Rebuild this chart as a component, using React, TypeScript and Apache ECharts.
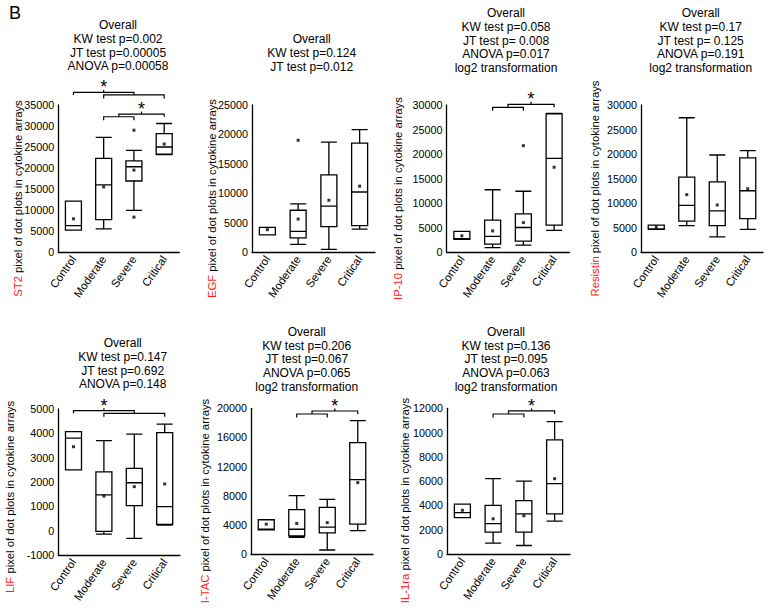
import React, { useEffect, useRef } from "react";
import * as echarts from "echarts";

const FONT = "'Liberation Sans', Arial, Helvetica, sans-serif";
const RED = "#ff1a1a";

const categories = ["Control", "Moderate", "Severe", "Critical"];

// boxes: [min, Q1, median, Q3, max]
const st2Boxes = [
  [5200, 5200, 6300, 12100, 12100],
  [5500, 7700, 16000, 22300, 27300],
  [9900, 16900, 20300, 21700, 24200],
  [23200, 23300, 25000, 28200, 30600],
];
const st2Means = [7900, 15500, 19500, 25700];
const st2Outliers = [[2, 29000], [2, 8300]];

const egfBoxes = [
  [2900, 2900, 2900, 4200, 4200],
  [1300, 2400, 3500, 7100, 8200],
  [450, 4300, 7800, 13100, 18700],
  [3900, 4500, 10200, 18500, 20800],
];
const egfMeans = [3800, 5600, 8800, 11200];
const egfOutliers = [[1, 19000]];

const ip10Boxes = [
  [2600, 2600, 2700, 4200, 4200],
  [900, 1600, 3200, 6500, 12700],
  [1400, 2200, 5000, 7800, 12400],
  [4400, 5500, 19100, 28200, 28300],
];
const ip10Means = [3300, 4300, 6000, 17300];
const ip10Outliers = [[2, 21700]];

const resistinBoxes = [
  [4600, 4600, 4700, 5500, 5500],
  [5400, 6300, 9500, 15300, 27400],
  [3100, 5400, 8400, 14300, 19800],
  [4600, 6800, 12500, 19200, 20700],
];
const resistinMeans = [5100, 11700, 9600, 12900];
const resistinOutliers: number[][] = [];

const lifBoxes = [
  [2500, 2500, 3800, 4070, 4070],
  [-140, -30, 1470, 2420, 3700],
  [-320, 1030, 1970, 2560, 3970],
  [230, 260, 990, 4030, 4380],
];
const lifMeans = [3450, 1420, 1810, 1920];
const lifOutliers: number[][] = [];

const itacBoxes = [
  [3300, 3300, 3400, 4700, 4700],
  [2300, 2500, 3400, 6100, 8000],
  [550, 2900, 3700, 6400, 7500],
  [3200, 4100, 10200, 15300, 18300],
];
const itacMeans = [4100, 4200, 4300, 9800];
const itacOutliers: number[][] = [];

const il1raBoxes = [
  [3000, 3000, 3400, 4100, 4100],
  [900, 1800, 2500, 4000, 6200],
  [700, 1800, 3300, 4400, 6000],
  [2700, 3300, 5800, 9400, 10900],
];
const il1raMeans = [3600, 2900, 3150, 6200];
const il1raOutliers: number[][] = [];

// Axis ranges [min, max, interval]
const st2Axis = [0, 35000, 5000];
const egfAxis = [0, 25000, 5000];
const ip10Axis = [0, 30000, 5000];
const resistinAxis = [0, 30000, 5000];
const lifAxis = [-1000, 5000, 1000];
const itacAxis = [0, 20000, 4000];
const il1raAxis = [0, 12000, 2000];

// Titles
const st2Title = ["Overall", "KW test p=0.002", "JT test p=0.00005", "ANOVA p=0.00058"];
const egfTitle = ["Overall", "KW test p=0.124", "JT test p=0.012"];
const ip10Title = ["Overall", "KW test p=0.058", "JT test p= 0.008", "ANOVA p=0.017", "log2 transformation"];
const resistinTitle = ["Overall", "KW test p=0.17", "JT test p= 0.125", "ANOVA p=0.191", "log2 transformation"];
const lifTitle = ["Overall", "KW test p=0.147", "JT test p=0.692", "ANOVA p=0.148"];
const itacTitle = ["Overall", "KW test p=0.206", "JT test p=0.067", "ANOVA p=0.065", "log2 transformation"];
const il1raTitle = ["Overall", "KW test p=0.136", "JT test p=0.095", "ANOVA p=0.063", "log2 transformation"];

// Significance brackets: from/to in category units, level in data units, end = level the ends drop to
const st2Brackets = [
  { from: 1, to: 3, level: 37400, end: null, star: false },
  { from: 0, to: 2, level: 38000, end: 37400, star: true },
  { from: 1, to: 2, level: 32200, end: null, star: false },
  { from: 1.5, to: 3, level: 32850, end: 32200, star: true },
];
const ip10Brackets = [
  { from: 1, to: 2, level: 29530, end: null, star: false },
  { from: 1.5, to: 3, level: 30140, end: 29530, star: true },
];
const lifBrackets = [
  { from: 1, to: 3, level: 4823, end: null, star: false },
  { from: 0, to: 2, level: 4930, end: 4823, star: true },
];
const itacBrackets = [
  { from: 1, to: 2, level: 19220, end: null, star: false },
  { from: 1.5, to: 3, level: 19630, end: 19220, star: true },
];
const il1raBrackets = [
  { from: 1, to: 2, level: 11530, end: null, star: false },
  { from: 1.5, to: 3, level: 11780, end: 11530, star: true },
];

const panels = [
  { name: "ST2", boxes: st2Boxes, means: st2Means, outliers: st2Outliers, axis: st2Axis, title: st2Title, brackets: st2Brackets },
  { name: "EGF", boxes: egfBoxes, means: egfMeans, outliers: egfOutliers, axis: egfAxis, title: egfTitle, brackets: [] as any[] },
  { name: "IP-10", boxes: ip10Boxes, means: ip10Means, outliers: ip10Outliers, axis: ip10Axis, title: ip10Title, brackets: ip10Brackets },
  { name: "Resistin", boxes: resistinBoxes, means: resistinMeans, outliers: resistinOutliers, axis: resistinAxis, title: resistinTitle, brackets: [] as any[] },
  { name: "LIF", boxes: lifBoxes, means: lifMeans, outliers: lifOutliers, axis: lifAxis, title: lifTitle, brackets: lifBrackets },
  { name: "I-TAC", boxes: itacBoxes, means: itacMeans, outliers: itacOutliers, axis: itacAxis, title: itacTitle, brackets: itacBrackets },
  { name: "IL-1ra", boxes: il1raBoxes, means: il1raMeans, outliers: il1raOutliers, axis: il1raAxis, title: il1raTitle, brackets: il1raBrackets },
];

// Layout (pixels): grid left, top, width, height, title centre x, title top, y-name x, y-name centre y
const layout = [
  [58.3, 105, 121, 147, 118, 18.3, 18, 198.5],
  [252, 105, 123, 147, 311.7, 32.3, 212, 198.5],
  [446.5, 105, 123, 147, 506, 6.5, 398, 198.5],
  [641, 105, 122, 147, 700.7, 6.5, 595, 188.5],
  [58.3, 409, 121.6, 146, 122.7, 336.5, 10, 497],
  [251, 408.3, 122, 145.7, 306.7, 325, 205, 501],
  [447, 408.3, 123, 145.7, 506, 325, 405, 500.5],
];

function bracketRender(params: any, api: any) {
  const lvl = api.value(1);
  const c0 = api.coord([0, lvl]);
  const c1 = api.coord([1, lvl]);
  const band = c1[0] - c0[0];
  const px = (v: number) => c0[0] + v * band;
  const x1 = px(api.value(2));
  const x2 = px(api.value(3));
  const y = c0[1];
  const endY = api.value(6) ? api.coord([0, api.value(4)])[1] : y + 3.5;
  const children: any[] = [
    {
      type: "polyline",
      shape: { points: [[x1, endY], [x1, y], [x2, y], [x2, endY]] },
      style: { stroke: "#000", lineWidth: 1.2, fill: "none" },
    },
  ];
  if (api.value(5)) {
    const cx = (x1 + x2) / 2;
    children.push({
      type: "line",
      shape: { x1: cx, y1: y, x2: cx, y2: y - 2.5 },
      style: { stroke: "#000", lineWidth: 1.2 },
    });
    children.push({
      type: "text",
      style: {
        text: "*",
        x: cx,
        y: y - 5,
        align: "center",
        verticalAlign: "middle",
        textAlign: "center",
        textVerticalAlign: "middle",
        fontSize: 18,
        fontFamily: FONT,
        fill: "#000",
      },
    });
  }
  return { type: "group", children };
}

export default function App() {
  const ref = useRef<HTMLDivElement>(null);
  useEffect(() => {
    if (!ref.current) return;
    const chart = echarts.init(ref.current, undefined, { renderer: "svg" });

    const grids: any[] = [];
    const xAxes: any[] = [];
    const yAxes: any[] = [];
    const series: any[] = [];
    const titles: any[] = [
      {
        text: "B",
        left: 9,
        top: 4,
        padding: 0,
        textStyle: { fontSize: 18, fontWeight: "normal", color: "#000", fontFamily: FONT },
      },
    ];
    const graphics: any[] = [];

    panels.forEach((p, i) => {
      const L = layout[i];
      grids.push({ left: L[0], top: L[1], width: L[2], height: L[3], containLabel: false });
      xAxes.push({
        type: "category",
        gridIndex: i,
        data: categories,
        boundaryGap: true,
        axisLine: { onZero: false, lineStyle: { color: "#000", width: 1.3 } },
        axisTick: { show: false },
        axisLabel: { rotate: 55, margin: 5, fontSize: 11.3, color: "#000", fontFamily: FONT, interval: 0 },
        splitLine: { show: false },
      });
      yAxes.push({
        type: "value",
        gridIndex: i,
        min: p.axis[0],
        max: p.axis[1],
        interval: p.axis[2],
        axisLine: { show: true, onZero: false, lineStyle: { color: "#000", width: 1.3 } },
        axisTick: { show: false },
        axisLabel: {
          margin: 4,
          fontSize: 10.8,
          color: "#000",
          fontFamily: FONT,
          formatter: (v: number) => String(v),
        },
        splitLine: { show: false },
      });
      series.push({
        type: "boxplot",
        name: p.name,
        xAxisIndex: i,
        yAxisIndex: i,
        data: p.boxes,
        boxWidth: [16, 16],
        itemStyle: { color: "#fff", borderColor: "#000", borderWidth: 1.3 },
        emphasis: { disabled: true },
      });
      series.push({
        type: "scatter",
        name: p.name + " mean",
        xAxisIndex: i,
        yAxisIndex: i,
        data: p.means.map((m, k) => [k, m]).concat(p.outliers),
        symbol: "rect",
        symbolSize: 3,
        itemStyle: { color: "#000" },
        z: 5,
      });
      if (p.brackets.length) {
        series.push({
          type: "custom",
          name: p.name + " brackets",
          xAxisIndex: i,
          yAxisIndex: i,
          clip: false,
          encode: { x: 0, y: 1 },
          data: p.brackets.map((b: any) => [
            0,
            b.level,
            b.from,
            b.to,
            b.end == null ? b.level : b.end,
            b.star ? 1 : 0,
            b.end == null ? 0 : 1,
          ]),
          renderItem: bracketRender,
          z: 6,
          silent: true,
        });
      }
      titles.push({
        text: p.title.join("\n"),
        left: L[4],
        top: L[5],
        textAlign: "center",
        padding: 0,
        textStyle: { fontSize: 12, lineHeight: 13.7, fontWeight: "normal", color: "#000", fontFamily: FONT },
      });
      graphics.push({
        type: "text",
        x: L[6],
        y: L[7],
        rotation: Math.PI / 2,
        style: {
          text: `{r|${p.name}} pixel of dot plots in cytokine arrays`,
          rich: { r: { fill: RED, color: RED, fontSize: 11.3, fontFamily: FONT } },
          textAlign: "center",
          textVerticalAlign: "middle",
          fontSize: 11.3,
          fontFamily: FONT,
          fill: "#000",
        },
      });
    });

    chart.setOption({
      animation: false,
      backgroundColor: "#fff",
      textStyle: { fontFamily: FONT },
      title: titles,
      grid: grids,
      xAxis: xAxes,
      yAxis: yAxes,
      series,
      graphic: graphics,
    });
    return () => chart.dispose();
  }, []);

  return (
    <div
      ref={ref}
      style={{ position: "absolute", left: 0, top: 0, width: 774, height: 612 }}
    />
  );
}
